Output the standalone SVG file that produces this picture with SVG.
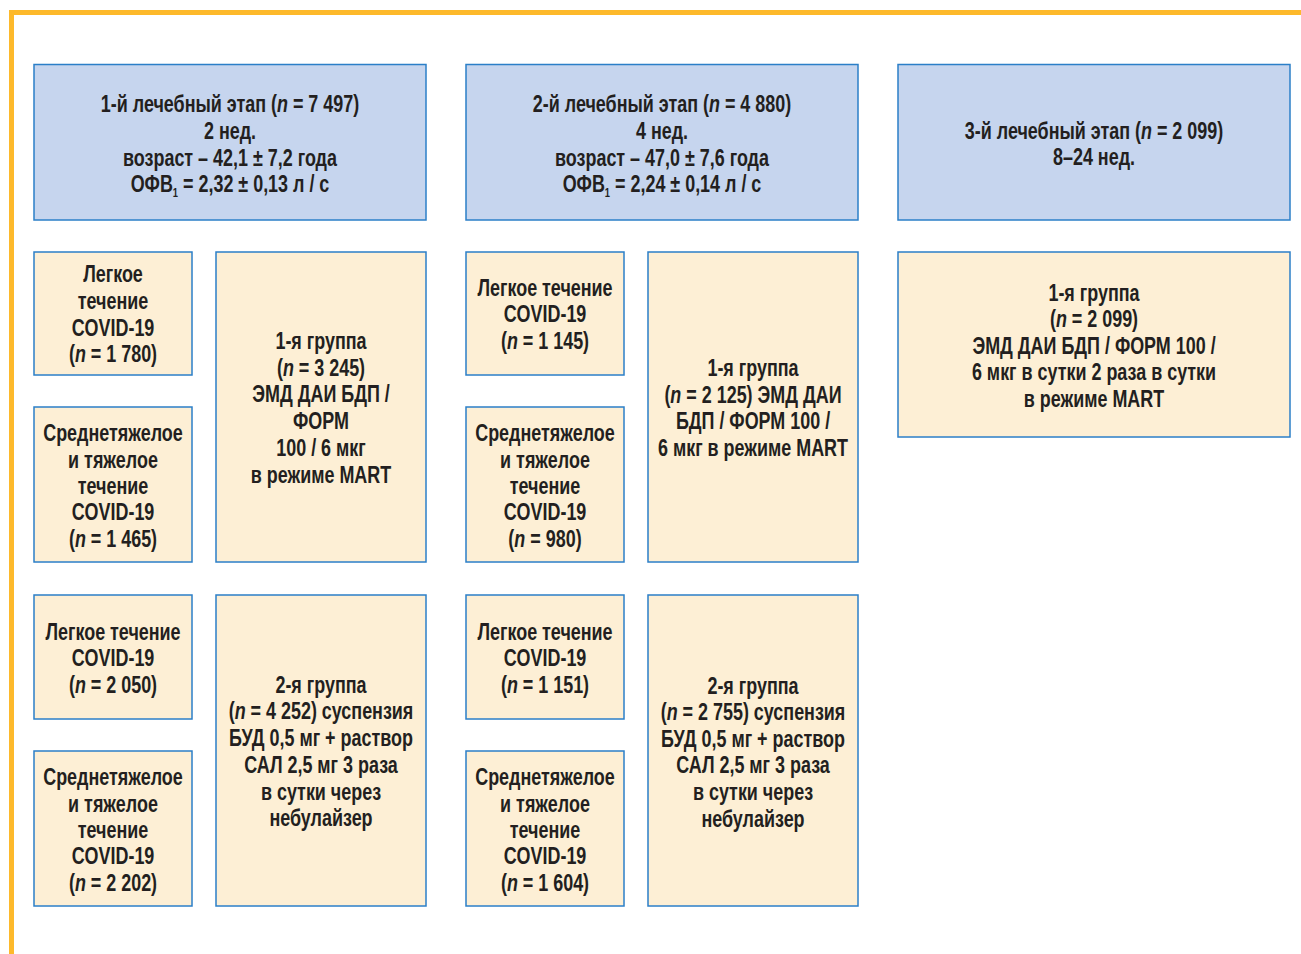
<svg xmlns="http://www.w3.org/2000/svg" width="1301" height="954" viewBox="0 0 1301 954">
<style>
.hdr{fill:#c6d5ee;stroke:#2b7fc8;stroke-width:1.5}
.box{fill:#fdefd5;stroke:#2b7fc8;stroke-width:1.5}
text{font-family:"Liberation Sans",Arial,sans-serif;font-weight:bold;font-size:23px;fill:#231f20;text-anchor:middle}
.i{font-style:italic}
.sub{font-size:12px}
</style>
<rect width="1301" height="954" fill="#ffffff"/>
<g id="frame">
<path d="M11.5 954 V12.5 H1301" fill="none" stroke="#fdb92b" stroke-width="5"/>
</g>
<g id="connectors"></g>

<g id="stage1">
<rect class="hdr" x="34" y="64.5" width="392" height="155.5"/>
<text transform="translate(230,0) scale(0.78,1)"><tspan x="0" y="112">1-й лечебный этап (<tspan class="i">n</tspan> = 7 497)</tspan><tspan x="0" y="139">2 нед.</tspan><tspan x="0" y="166">возраст – 42,1 ± 7,2 года</tspan><tspan x="0" y="192">ОФВ<tspan class="sub" dy="5">1</tspan><tspan dy="-5"> = 2,32 ± 0,13 л / с</tspan></tspan></text>
</g>
<g id="stage2">
<rect class="hdr" x="466" y="64.5" width="392" height="155.5"/>
<text transform="translate(662,0) scale(0.78,1)"><tspan x="0" y="112">2-й лечебный этап (<tspan class="i">n</tspan> = 4 880)</tspan><tspan x="0" y="139">4 нед.</tspan><tspan x="0" y="166">возраст – 47,0 ± 7,6 года</tspan><tspan x="0" y="192">ОФВ<tspan class="sub" dy="5">1</tspan><tspan dy="-5"> = 2,24 ± 0,14 л / с</tspan></tspan></text>
</g>
<g id="stage3">
<rect class="hdr" x="898" y="64.5" width="392" height="155.5"/>
<text transform="translate(1094,0) scale(0.78,1)"><tspan x="0" y="139">3-й лечебный этап (<tspan class="i">n</tspan> = 2 099)</tspan><tspan x="0" y="165">8–24 нед.</tspan></text>
</g>

<g id="s1-mild1">
<rect class="box" x="34" y="252" width="158" height="123"/>
<text transform="translate(113,0) scale(0.78,1)"><tspan x="0" y="282">Легкое</tspan><tspan x="0" y="309">течение</tspan><tspan x="0" y="336">COVID-19</tspan><tspan x="0" y="362">(<tspan class="i">n</tspan> = 1 780)</tspan></text>
</g>
<g id="s1-severe1">
<rect class="box" x="34" y="407" width="158" height="155"/>
<text transform="translate(113,0) scale(0.78,1)"><tspan x="0" y="441">Среднетяжелое</tspan><tspan x="0" y="468">и тяжелое</tspan><tspan x="0" y="494">течение</tspan><tspan x="0" y="520">COVID-19</tspan><tspan x="0" y="547">(<tspan class="i">n</tspan> = 1 465)</tspan></text>
</g>
<g id="s1-group1">
<rect class="box" x="216" y="252" width="210" height="310"/>
<text transform="translate(321,0) scale(0.78,1)"><tspan x="0" y="349">1-я группа</tspan><tspan x="0" y="376">(<tspan class="i">n</tspan> = 3 245)</tspan><tspan x="0" y="402">ЭМД ДАИ БДП /</tspan><tspan x="0" y="429">ФОРМ</tspan><tspan x="0" y="456">100 / 6 мкг</tspan><tspan x="0" y="483">в режиме MART</tspan></text>
</g>
<g id="s1-mild2">
<rect class="box" x="34" y="595" width="158" height="124"/>
<text transform="translate(113,0) scale(0.78,1)"><tspan x="0" y="640">Легкое течение</tspan><tspan x="0" y="666">COVID-19</tspan><tspan x="0" y="693">(<tspan class="i">n</tspan> = 2 050)</tspan></text>
</g>
<g id="s1-severe2">
<rect class="box" x="34" y="751" width="158" height="155"/>
<text transform="translate(113,0) scale(0.78,1)"><tspan x="0" y="785">Среднетяжелое</tspan><tspan x="0" y="812">и тяжелое</tspan><tspan x="0" y="838">течение</tspan><tspan x="0" y="864">COVID-19</tspan><tspan x="0" y="891">(<tspan class="i">n</tspan> = 2 202)</tspan></text>
</g>
<g id="s1-group2">
<rect class="box" x="216" y="595" width="210" height="311"/>
<text transform="translate(321,0) scale(0.78,1)"><tspan x="0" y="693">2-я группа</tspan><tspan x="0" y="719">(<tspan class="i">n</tspan> = 4 252) суспензия</tspan><tspan x="0" y="746">БУД 0,5 мг + раствор</tspan><tspan x="0" y="773">САЛ 2,5 мг 3 раза</tspan><tspan x="0" y="800">в сутки через</tspan><tspan x="0" y="826">небулайзер</tspan></text>
</g>

<g id="s2-mild1">
<rect class="box" x="466" y="252" width="158" height="123"/>
<text transform="translate(545,0) scale(0.78,1)"><tspan x="0" y="296">Легкое течение</tspan><tspan x="0" y="322">COVID-19</tspan><tspan x="0" y="349">(<tspan class="i">n</tspan> = 1 145)</tspan></text>
</g>
<g id="s2-severe1">
<rect class="box" x="466" y="407" width="158" height="155"/>
<text transform="translate(545,0) scale(0.78,1)"><tspan x="0" y="441">Среднетяжелое</tspan><tspan x="0" y="468">и тяжелое</tspan><tspan x="0" y="494">течение</tspan><tspan x="0" y="520">COVID-19</tspan><tspan x="0" y="547">(<tspan class="i">n</tspan> = 980)</tspan></text>
</g>
<g id="s2-group1">
<rect class="box" x="648" y="252" width="210" height="310"/>
<text transform="translate(753,0) scale(0.78,1)"><tspan x="0" y="376">1-я группа</tspan><tspan x="0" y="403">(<tspan class="i">n</tspan> = 2 125) ЭМД ДАИ</tspan><tspan x="0" y="429">БДП / ФОРМ 100 /</tspan><tspan x="0" y="456">6 мкг в режиме MART</tspan></text>
</g>
<g id="s2-mild2">
<rect class="box" x="466" y="595" width="158" height="124"/>
<text transform="translate(545,0) scale(0.78,1)"><tspan x="0" y="640">Легкое течение</tspan><tspan x="0" y="666">COVID-19</tspan><tspan x="0" y="693">(<tspan class="i">n</tspan> = 1 151)</tspan></text>
</g>
<g id="s2-severe2">
<rect class="box" x="466" y="751" width="158" height="155"/>
<text transform="translate(545,0) scale(0.78,1)"><tspan x="0" y="785">Среднетяжелое</tspan><tspan x="0" y="812">и тяжелое</tspan><tspan x="0" y="838">течение</tspan><tspan x="0" y="864">COVID-19</tspan><tspan x="0" y="891">(<tspan class="i">n</tspan> = 1 604)</tspan></text>
</g>
<g id="s2-group2">
<rect class="box" x="648" y="595" width="210" height="311"/>
<text transform="translate(753,0) scale(0.78,1)"><tspan x="0" y="694">2-я группа</tspan><tspan x="0" y="720">(<tspan class="i">n</tspan> = 2 755) суспензия</tspan><tspan x="0" y="747">БУД 0,5 мг + раствор</tspan><tspan x="0" y="773">САЛ 2,5 мг 3 раза</tspan><tspan x="0" y="800">в сутки через</tspan><tspan x="0" y="827">небулайзер</tspan></text>
</g>

<g id="s3-group1">
<rect class="box" x="898" y="252" width="392" height="185"/>
<text transform="translate(1094,0) scale(0.78,1)"><tspan x="0" y="301">1-я группа</tspan><tspan x="0" y="327">(<tspan class="i">n</tspan> = 2 099)</tspan><tspan x="0" y="354">ЭМД ДАИ БДП / ФОРМ 100 /</tspan><tspan x="0" y="380">6 мкг в сутки 2 раза в сутки</tspan><tspan x="0" y="407">в режиме MART</tspan></text>
</g>
</svg>
